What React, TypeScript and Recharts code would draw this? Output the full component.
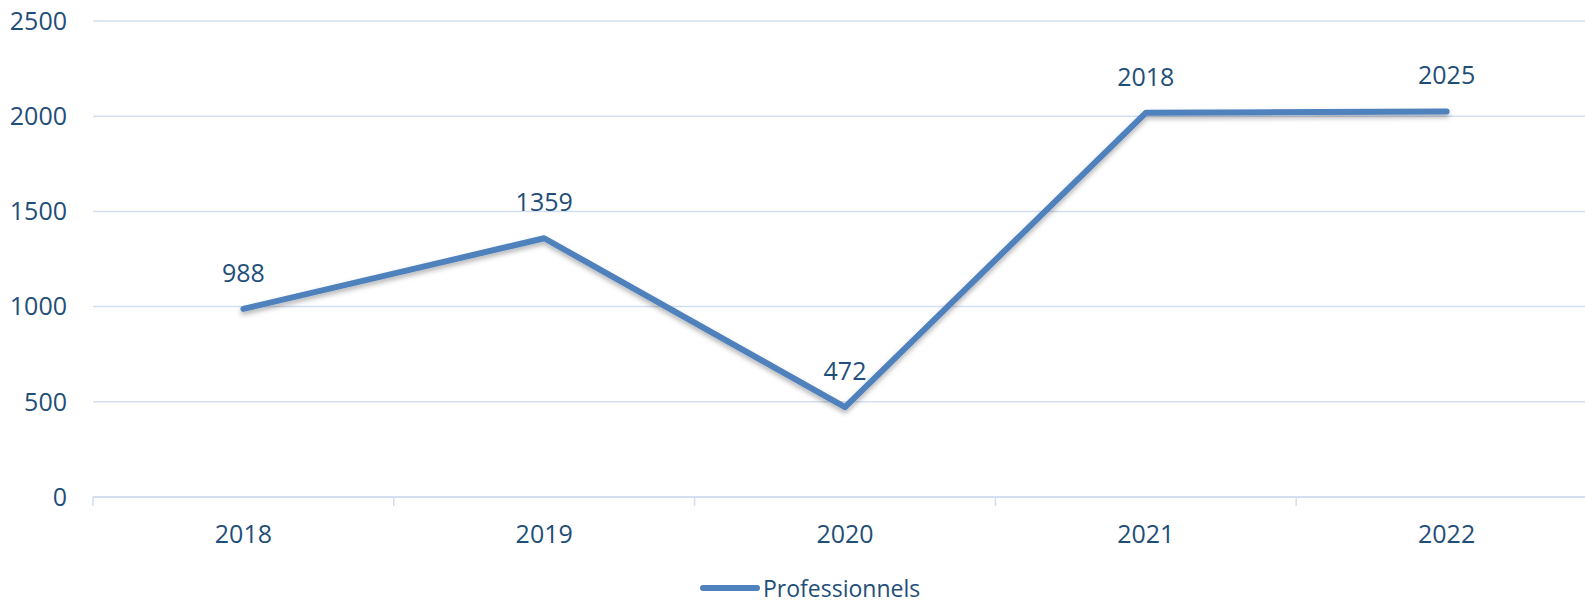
import { CartesianGrid, LabelList, Legend, Line, LineChart, XAxis, YAxis } from 'recharts';

const years = ['2018', '2019', '2020', '2021', '2022'];
const professionnels = [988, 1359, 472, 2018, 2025];
const yTicks = [0, 500, 1000, 1500, 2000, 2500];

const data = years.map((year, i) => ({ year, professionnels: professionnels[i] }));

const CHART_W = 1600;
const CHART_H = 603;
const Y_AXIS_W = 93;
const MARGIN = { top: 21, right: 3, bottom: 0, left: 0 };
const PLOT_W = CHART_W - Y_AXIS_W - MARGIN.left - MARGIN.right;
const BAND = PLOT_W / years.length;

const textColor = '#1F4E79';
const gridColor = '#D3DEF1';
const lineColor = '#4F81BD';
const font = '"Open Sans", sans-serif';

function YearTick({ x, y, payload, index }: any) {
  const isLast = index === years.length - 1;
  return (
    <g>
      <line x1={x - BAND / 2} x2={x - BAND / 2} y1={y} y2={y + 9} stroke={gridColor} strokeWidth={1.5} />
      {isLast && (
        <line x1={x + BAND / 2} x2={x + BAND / 2} y1={y} y2={y + 9} stroke={gridColor} strokeWidth={1.5} />
      )}
      <text x={x} y={y + 28} dy="0.71em" textAnchor="middle" fill={textColor} fontSize={25} fontFamily={font}>
        {payload.value}
      </text>
    </g>
  );
}

function LegendContent() {
  return (
    <div
      style={{
        height: 36,
        boxSizing: 'border-box',
        paddingTop: 5,
        paddingLeft: 700,
        display: 'flex',
        alignItems: 'center',
        fontFamily: font,
        fontSize: 23,
        color: textColor,
        lineHeight: '28px',
      }}
    >
      <svg width={60} height={10} style={{ marginRight: 3 }}>
        <line x1={3} x2={57} y1={5} y2={5} stroke={lineColor} strokeWidth={6} strokeLinecap="round" />
      </svg>
      <span>Professionnels</span>
    </div>
  );
}

export default function App() {
  return (
    <div style={{ position: 'absolute', left: 0, top: 0, width: 1585, height: 603, overflow: 'hidden', background: '#fff' }}>
      <LineChart width={CHART_W} height={CHART_H} data={data} margin={MARGIN}>
        <defs>
          <filter id="lineShadow" x="-5%" y="-20%" width="110%" height="140%">
            <feDropShadow dx="0" dy="3" stdDeviation="2.5" floodColor="#000" floodOpacity="0.3" />
          </filter>
        </defs>
        <CartesianGrid vertical={false} stroke={gridColor} strokeWidth={1.5} />
        <XAxis
          dataKey="year"
          height={70}
          padding={{ left: BAND / 2, right: BAND / 2 }}
          tickLine={false}
          tickSize={0}
          tickMargin={0}
          axisLine={{ stroke: gridColor, strokeWidth: 2 }}
          tick={<YearTick />}
          interval={0}
        />
        <YAxis
          width={Y_AXIS_W}
          domain={[0, 2500]}
          ticks={yTicks}
          axisLine={false}
          tickLine={false}
          tickSize={0}
          tickMargin={26}
          tick={{ fill: textColor, fontSize: 25, fontFamily: font }}
        />
        <Legend verticalAlign="bottom" height={36} content={<LegendContent />} wrapperStyle={{ left: 0, width: 1585 }} />
        <Line
          type="linear"
          dataKey="professionnels"
          name="Professionnels"
          stroke={lineColor}
          strokeWidth={6}
          strokeLinecap="round"
          strokeLinejoin="round"
          dot={false}
          activeDot={false}
          filter="url(#lineShadow)"
          isAnimationActive={false}
        >
          <LabelList
            dataKey="professionnels"
            position="top"
            offset={27}
            fill={textColor}
            fontSize={25}
            fontFamily={font}
          />
        </Line>
      </LineChart>
    </div>
  );
}
